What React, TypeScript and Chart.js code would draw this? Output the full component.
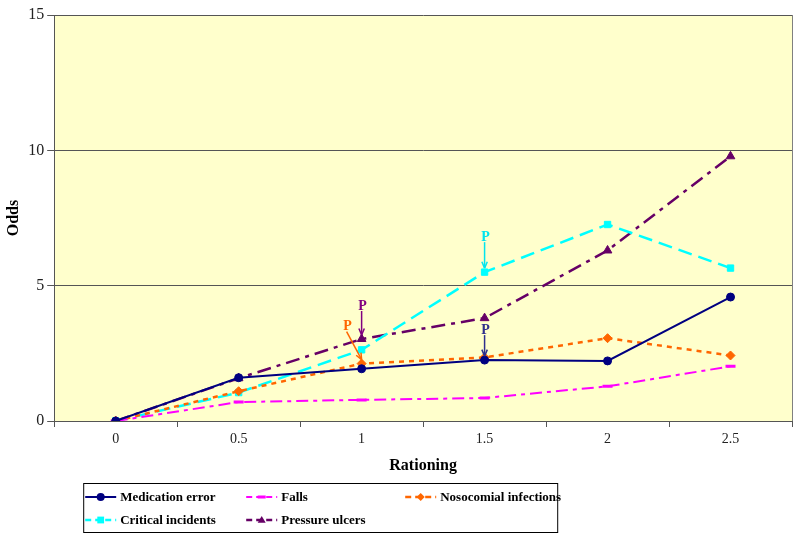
import React, { useEffect, useRef } from "react";
import { Chart, registerables } from "chart.js";

Chart.register(...registerables);

const categories = ["0", "0.5", "1", "1.5", "2", "2.5"];
const medicationError = [0, 1.6, 1.93, 2.25, 2.22, 4.58];
const falls = [0, 0.7, 0.78, 0.85, 1.28, 2.02];
const nosocomialInfections = [0, 1.1, 2.12, 2.35, 3.06, 2.42];
const criticalIncidents = [0, 1.05, 2.63, 5.5, 7.26, 5.65];
const pressureUlcers = [0, 1.58, 3.03, 3.8, 6.3, 9.78];
const yTicks = [0, 5, 10, 15];

const FONT = "'Liberation Serif', 'Times New Roman', serif";

type Ann = { ds: number; idx: number; dx: number; len: number; color: string };
const annotations: Ann[] = [
  { ds: 2, idx: 2, dx: -15, len: 28, color: "#FF6600" },
  { ds: 4, idx: 2, dx: 0, len: 24, color: "#800080" },
  { ds: 3, idx: 3, dx: 0, len: 26, color: "#00E5EE" },
  { ds: 0, idx: 3, dx: 0, len: 21, color: "#2E2E8C" },
];

const plotBg = {
  id: "plotBg",
  beforeDraw(chart: any) {
    const { ctx, chartArea: a } = chart;
    ctx.save();
    ctx.fillStyle = "#FFFFCC";
    ctx.fillRect(a.left, a.top, a.right - a.left, a.bottom - a.top);
    ctx.restore();
  },
  beforeDatasetsDraw(chart: any) {
    const { ctx, chartArea: a } = chart;
    ctx.save();
    ctx.strokeStyle = "#808080";
    ctx.lineWidth = 1;
    ctx.beginPath();
    ctx.moveTo(a.right + 0.5, a.top);
    ctx.lineTo(a.right + 0.5, a.bottom);
    ctx.stroke();
    ctx.restore();
  },
};

const annPlugin = {
  id: "annPlugin",
  afterDatasetsDraw(chart: any) {
    const { ctx } = chart;
    ctx.save();
    annotations.forEach((an) => {
      const pt = chart.getDatasetMeta(an.ds).data[an.idx];
      const x1 = pt.x, y1 = pt.y - 4;
      const x0 = pt.x + an.dx, y0 = pt.y - 4 - an.len;
      ctx.strokeStyle = an.color;
      ctx.fillStyle = an.color;
      ctx.lineWidth = 1.5;
      ctx.beginPath();
      ctx.moveTo(x0, y0);
      ctx.lineTo(x1, y1);
      ctx.stroke();
      const ang = Math.atan2(y1 - y0, x1 - x0);
      const h = 7;
      ctx.beginPath();
      ctx.moveTo(x1, y1);
      ctx.lineTo(x1 - h * Math.cos(ang - 0.4), y1 - h * Math.sin(ang - 0.4));
      ctx.moveTo(x1, y1);
      ctx.lineTo(x1 - h * Math.cos(ang + 0.4), y1 - h * Math.sin(ang + 0.4));
      ctx.stroke();
      ctx.font = `bold 14px ${FONT}`;
      ctx.textAlign = "center";
      ctx.textBaseline = "bottom";
      ctx.fillText("P", x0 + 1, y0 + 2);
    });
    ctx.restore();
  },
};

function drawMarker(ctx: CanvasRenderingContext2D, style: string, x: number, y: number, r: number) {
  ctx.beginPath();
  if (style === "circle") {
    ctx.arc(x, y, r, 0, Math.PI * 2);
    ctx.fill();
  } else if (style === "rect") {
    ctx.fillRect(x - r * 0.85, y - r * 0.85, r * 1.7, r * 1.7);
  } else if (style === "rectRot") {
    ctx.moveTo(x, y - r);
    ctx.lineTo(x + r, y);
    ctx.lineTo(x, y + r);
    ctx.lineTo(x - r, y);
    ctx.closePath();
    ctx.fill();
  } else if (style === "triangle") {
    ctx.moveTo(x, y - r);
    ctx.lineTo(x + r, y + r * 0.7);
    ctx.lineTo(x - r, y + r * 0.7);
    ctx.closePath();
    ctx.fill();
  } else if (style === "line") {
    ctx.fillRect(x - r, y - 1.5, r * 2, 3);
  }
}

const legendPlugin = {
  id: "boxLegend",
  afterDraw(chart: any) {
    const { ctx, chartArea: a } = chart;
    const left = a.left + 29;
    const top = a.bottom + 62;
    const w = 474;
    const h = 49;
    ctx.save();
    ctx.fillStyle = "#FFFFFF";
    ctx.fillRect(left, top, w, h);
    ctx.strokeStyle = "#000";
    ctx.lineWidth = 1;
    ctx.strokeRect(left + 0.5, top + 0.5, w, h);
    const cols = [left + 2, left + 163, left + 322];
    const rows = [top + 14, top + 37];
    chart.data.datasets.forEach((ds: any, i: number) => {
      const col = i === 3 ? 0 : i === 4 ? 1 : i;
      const row = i >= 3 ? 1 : 0;
      const x = cols[col];
      const y = rows[row];
      ctx.strokeStyle = ds.borderColor;
      ctx.lineWidth = ds.borderWidth;
      ctx.setLineDash(ds.borderDash.length ? [6, 4] : []);
      ctx.beginPath();
      ctx.moveTo(x, y);
      ctx.lineTo(x + 31, y);
      ctx.stroke();
      ctx.setLineDash([]);
      ctx.fillStyle = ds.pointBackgroundColor;
      drawMarker(ctx, ds.pointStyle, x + 15.5, y, 4);
      ctx.fillStyle = "#000";
      ctx.font = `bold 13px ${FONT}`;
      ctx.textAlign = "left";
      ctx.textBaseline = "middle";
      ctx.fillText(ds.label, x + 35, y + 1);
    });
    ctx.restore();
  },
};

export default function App() {
  const ref = useRef<HTMLCanvasElement>(null);
  useEffect(() => {
    document.body.style.margin = "0";
    const mk = (label: string, data: number[], color: string, dash: number[], style: string, r: number, width: number) => ({
      label,
      data,
      borderColor: color,
      backgroundColor: color,
      pointBackgroundColor: color,
      pointBorderColor: color,
      borderWidth: width,
      borderDash: dash,
      pointStyle: style,
      pointRadius: r,
      pointBorderWidth: style === "line" ? 3 : 1,
      tension: 0,
      fill: false,
    });
    const chart = new Chart(ref.current!, {
      type: "line",
      data: {
        labels: categories,
        datasets: [
          mk("Medication error", medicationError, "#000080", [], "circle", 4, 2),
          mk("Falls", falls, "#FF00FF", [12, 5, 4, 5], "line", 5, 2),
          mk("Nosocomial infections", nosocomialInfections, "#FF6600", [5, 5], "rectRot", 4.5, 2.5),
          mk("Critical incidents", criticalIncidents, "#00FFFF", [14, 7], "rect", 4.5, 2.5),
          mk("Pressure ulcers", pressureUlcers, "#660066", [14, 6, 4, 6], "triangle", 5, 2.5),
        ] as any,
      },
      options: {
        animation: false,
        responsive: false,
        layout: { padding: { top: 15, right: 8, left: 4, bottom: 61 } },
        plugins: { legend: { display: false }, tooltip: { enabled: false } },
        scales: {
          x: {
            offset: true,
            grid: { offset: true, drawOnChartArea: false, drawTicks: true, tickLength: 6, color: "#555" },
            border: { color: "#555" },
            ticks: { color: "#222", font: { family: FONT, size: 14 }, padding: 4 },
            title: { display: true, text: "Rationing", color: "#000", font: { family: FONT, size: 16, weight: "bold" }, padding: { top: 4 } },
          },
          y: {
            min: 0,
            max: 15,
            afterBuildTicks: (s: any) => { s.ticks = yTicks.map((v) => ({ value: v })); },
            grid: { color: "#555", tickLength: 7, drawTicks: true },
            border: { color: "#555" },
            ticks: { color: "#222", font: { family: FONT, size: 16 }, padding: 3 },
            title: { display: true, text: "Odds", color: "#000", font: { family: FONT, size: 16, weight: "bold" }, padding: { top: 0, bottom: 2 } },
          },
        },
      },
      plugins: [plotBg, annPlugin, legendPlugin],
    });
    return () => chart.destroy();
  }, []);
  return (
    <div style={{ position: "absolute", left: 0, top: 0, width: 800, height: 540 }}>
      <canvas ref={ref} width={800} height={540} />
    </div>
  );
}
